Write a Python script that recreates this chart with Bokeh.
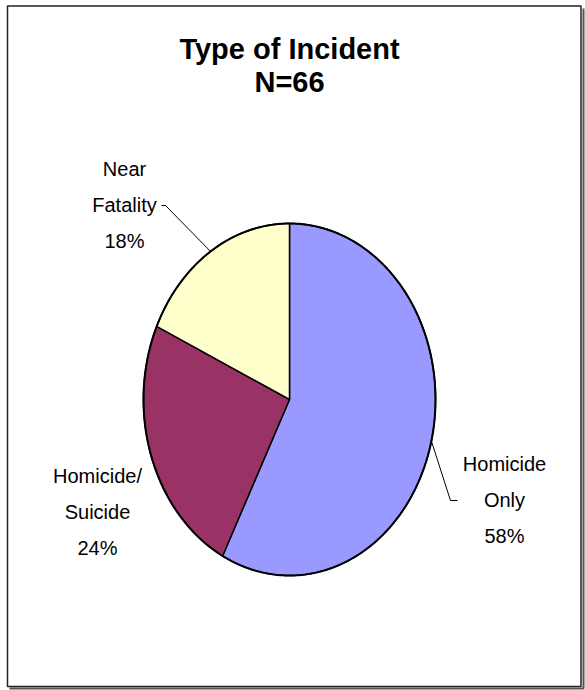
import math
from bokeh.plotting import figure
from bokeh.models import Range1d
from bokeh.core.properties import value
from bokeh.embed import file_html
from bokeh.resources import INLINE

# ---- data ----
categories = ["Homicide Only", "Homicide/Suicide", "Near Fatality"]
counts = [38, 16, 12]
label_lines = [["Homicide", "Only"], ["Homicide/", "Suicide"], ["Near", "Fatality"]]
colors = ["#9999FF", "#993366", "#FFFFCC"]
title_lines = ["Type of Incident", "N=66"]

# ---- layout (pixels, y downward) ----
W, H = 585, 690
CX, CY, RX, RY = 289, 399, 146, 176
label_pos = [(504, 463), (97, 475), (124, 168)]   # first line centre
line_step = 36
leader_knee = [(450, 500, 457), None, (165, 205, 161)]  # knee x, y, end x
FONT = "'Liberation Sans', Arial, sans-serif"

p = figure(width=W, height=H, output_backend="svg", toolbar_location=None,
           x_range=Range1d(0, W), y_range=Range1d(H, 0), min_border=0)
p.axis.visible = False
p.grid.visible = False
p.outline_line_color = None
p.background_fill_color = "white"

# frame with shadow
p.line([9, 583, 583], [688, 688, 8], line_color="#555555", line_width=2)
p.quad(left=[7], right=[580.5], top=[5.5], bottom=[686], fill_color=None,
       line_color="#222222", line_width=1.5)

total = sum(counts)
xs, ys, mids = [], [], []
start = 0.0
for c in counts:
    a0 = start / total * 2 * math.pi
    a1 = (start + c) / total * 2 * math.pi
    n = max(8, int((a1 - a0) * 80))
    px = [CX]
    py = [CY]
    for i in range(n + 1):
        a = a0 + (a1 - a0) * i / n
        px.append(CX + RX * math.sin(a))
        py.append(CY - RY * math.cos(a))
    xs.append(px)
    ys.append(py)
    mids.append((a0 + a1) / 2)
    start += c

p.patches(xs, ys, fill_color=colors, line_color="black", line_width=1.5)
ex = [CX + RX * math.sin(2 * math.pi * i / 400) for i in range(401)]
ey = [CY - RY * math.cos(2 * math.pi * i / 400) for i in range(401)]
p.line(ex, ey, line_color="black", line_width=2)

# labels
for k, (lines, (lx, ly)) in enumerate(zip(label_lines, label_pos)):
    pct = f"{round(counts[k] / total * 100)}%"
    all_lines = lines + [pct]
    p.text(x=[lx] * len(all_lines), y=[ly + i * line_step for i in range(len(all_lines))],
           text=all_lines, text_font=value(FONT), text_font_size="20px",
           text_align="center", text_baseline="middle", text_color="black")
    knee = leader_knee[k]
    if knee:
        sx = CX + RX * math.sin(mids[k])
        sy = CY - RY * math.cos(mids[k])
        p.line([sx, knee[0], knee[2]], [sy, knee[1], knee[1]], line_color="black", line_width=1)

# title
p.text(x=[289, 289], y=[48, 81], text=title_lines, text_font=value(FONT),
       text_font_style="bold", text_font_size="29px", text_align="center",
       text_baseline="middle", text_color="black")

open("out.html", "w").write(file_html(p, INLINE))
